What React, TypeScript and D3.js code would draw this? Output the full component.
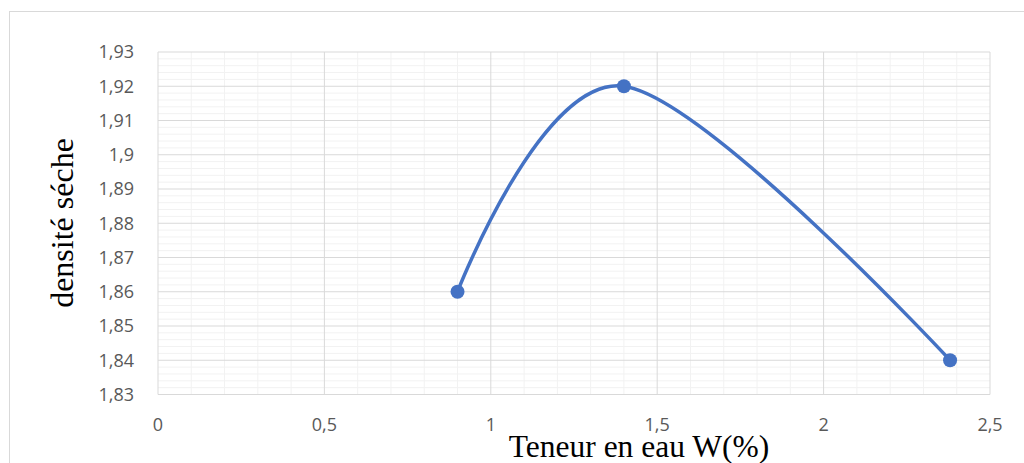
import React from "react";
import * as d3 from "d3";

// Compaction data: water content (%) vs dry density
const waterContent = [0.9, 1.4, 2.38];
const dryDensity = [1.86, 1.92, 1.84];

const xTicks = [0, 0.5, 1, 1.5, 2, 2.5];
const yTicks = [1.83, 1.84, 1.85, 1.86, 1.87, 1.88, 1.89, 1.9, 1.91, 1.92, 1.93];

const W = 1024;
const H = 463;
const plot = { left: 158, right: 990, top: 52, bottom: 394.5 };

const fmt = (v: number) => String(+v.toFixed(3)).replace(".", ",");
const tickFont = "'Open Sans', Lato, sans-serif";

export default function App() {
  const x = d3.scaleLinear().domain([0, 2.5]).range([plot.left, plot.right]);
  const y = d3.scaleLinear().domain([1.83, 1.93]).range([plot.bottom, plot.top]);

  const minorX = d3.range(0, 26, 1).map((i) => i / 10).filter((v) => Math.round(v * 10) % 5 !== 0);
  const minorY = d3.range(0, 51, 1).map((i) => 1.83 + i * 0.002).filter((_, i) => i % 5 !== 0);

  const pts = waterContent.map((w, i) => [x(w), y(dryDensity[i])] as [number, number]);
  const line = d3.line().curve(d3.curveCardinal.tension(0))(pts) || "";

  return (
    <svg width={W} height={H} style={{ position: "absolute", left: 0, top: 0, background: "#fff" }}>
      <rect x={9.5} y={11.5} width={W + 20} height={H + 20} fill="#fff" stroke="#d9d9d9" strokeWidth={1} />
      {minorY.map((v, i) => (
        <line key={"my" + i} x1={plot.left} x2={plot.right} y1={y(v)} y2={y(v)} stroke="#f2f2f2" strokeWidth={1} />
      ))}
      {minorX.map((v, i) => (
        <line key={"mx" + i} x1={x(v)} x2={x(v)} y1={plot.top} y2={plot.bottom} stroke="#f2f2f2" strokeWidth={1} />
      ))}
      {yTicks.map((v, i) => (
        <line key={"gy" + i} x1={plot.left} x2={plot.right} y1={y(v)} y2={y(v)} stroke="#d9d9d9" strokeWidth={1} />
      ))}
      {xTicks.map((v, i) => (
        <line key={"gx" + i} x1={x(v)} x2={x(v)} y1={plot.top} y2={plot.bottom} stroke="#d9d9d9" strokeWidth={1} />
      ))}
      {yTicks.map((v, i) => (
        <text key={"ty" + i} x={134} y={y(v)} dy="0.35em" textAnchor="end" fontFamily={tickFont} fontSize={18} fill="#595959">
          {fmt(v)}
        </text>
      ))}
      {xTicks.map((v, i) => (
        <text key={"tx" + i} x={x(v)} y={425} dy="0.35em" textAnchor="middle" fontFamily={tickFont} fontSize={18} fill="#595959">
          {fmt(v)}
        </text>
      ))}
      <path d={line} fill="none" stroke="#4472c4" strokeWidth={3.5} strokeLinecap="round" />
      {pts.map((p, i) => (
        <circle key={"p" + i} cx={p[0]} cy={p[1]} r={7} fill="#4472c4" />
      ))}
      <text x={639} y={457} textAnchor="middle" fontFamily="'Liberation Serif', serif" fontSize={31.5} fill="#000">
        Teneur en eau W(%)
      </text>
      <text transform={`translate(73, 223) rotate(-90)`} textAnchor="middle" fontFamily="'Liberation Serif', serif" fontSize={32} fill="#000">
        densité séche
      </text>
    </svg>
  );
}
